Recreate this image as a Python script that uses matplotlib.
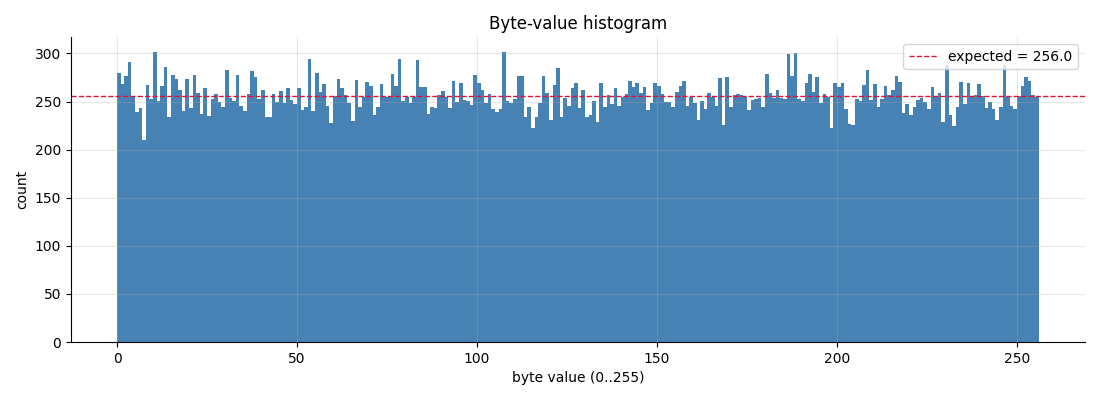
import matplotlib.pyplot as plt
import numpy as np

byte_values = np.arange(256)
counts = [
    280, 268, 277, 291, 256, 239, 243, 210, 267, 253, 301, 251, 266, 286, 234, 278,
    273, 262, 240, 273, 243, 278, 259, 237, 264, 235, 253, 258, 250, 244, 283, 254,
    251, 278, 245, 240, 258, 282, 276, 253, 262, 234, 234, 258, 250, 261, 249, 264,
    252, 247, 264, 241, 244, 294, 240, 280, 260, 268, 245, 228, 256, 273, 264, 257,
    249, 230, 272, 244, 255, 270, 266, 236, 244, 268, 255, 255, 279, 266, 294, 251,
    255, 249, 255, 293, 265, 265, 237, 244, 243, 257, 261, 255, 243, 271, 250, 269,
    252, 251, 246, 278, 269, 262, 248, 258, 242, 239, 242, 302, 251, 249, 253, 277,
    277, 234, 244, 222, 234, 248, 277, 259, 231, 267, 285, 234, 254, 245, 264, 269,
    243, 262, 234, 236, 251, 229, 269, 244, 257, 247, 264, 245, 255, 258, 271, 265,
    269, 259, 265, 241, 249, 269, 266, 258, 250, 250, 244, 260, 266, 271, 245, 255,
    249, 231, 251, 242, 259, 255, 245, 274, 226, 276, 244, 257, 258, 257, 255, 241,
    252, 253, 254, 244, 279, 259, 254, 262, 254, 253, 299, 277, 300, 253, 251, 269,
    279, 260, 275, 249, 258, 255, 223, 269, 265, 269, 242, 227, 226, 253, 251, 267,
    283, 252, 268, 244, 253, 266, 257, 262, 277, 270, 238, 247, 236, 244, 252, 254,
    250, 242, 265, 256, 259, 229, 288, 236, 225, 244, 270, 247, 269, 255, 257, 268,
    256, 243, 250, 242, 231, 244, 288, 255, 245, 242, 256, 266, 276, 271, 257, 255,
]
expected = 65536 / 256

fig = plt.figure(figsize=(11, 4), dpi=100)
ax = fig.add_axes([0.0645, 0.145, 0.9215, 0.7625])

ax.bar(byte_values, counts, width=1.0, align='edge', color='steelblue')
ax.axhline(expected, color='crimson', ls='--', lw=1, label=f'expected = {expected}')

ax.set_title("Byte-value histogram")
ax.set_xlabel("byte value (0..255)")
ax.set_ylabel("count")
ax.grid(alpha=0.3)
ax.spines['top'].set_visible(False)
ax.spines['right'].set_visible(False)
ax.legend(loc='upper right')

plt.savefig("out.png")
